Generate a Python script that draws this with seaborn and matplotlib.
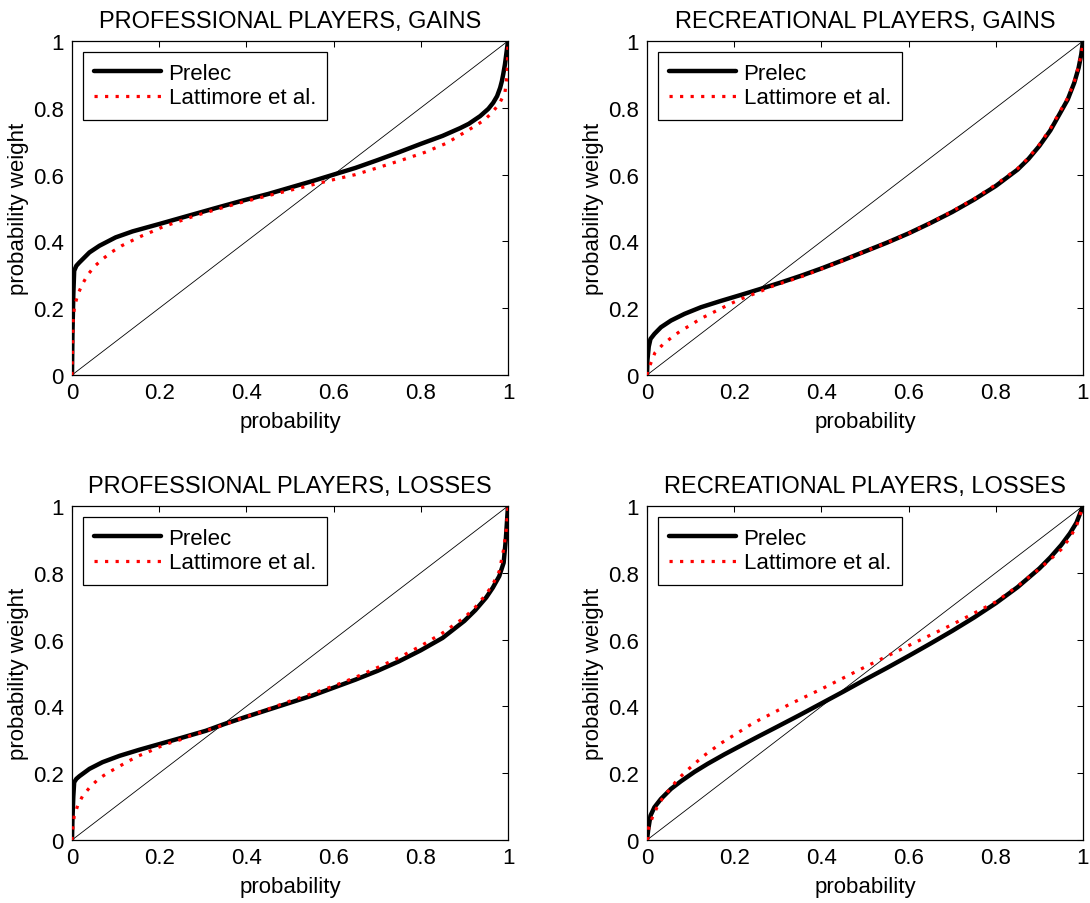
import numpy as np
import pandas as pd
import matplotlib
matplotlib.use("Agg")
import matplotlib.pyplot as plt
import seaborn as sns

# valores
tick_vals = [0, 0.2, 0.4, 0.6, 0.8, 1]
tick_labels = ["0", "0.2", "0.4", "0.6", "0.8", "1"]

titles = ["PROFESSIONAL PLAYERS, GAINS", "RECREATIONAL PLAYERS, GAINS",
          "PROFESSIONAL PLAYERS, LOSSES", "RECREATIONAL PLAYERS, LOSSES"]

# profesionales, ganancias
prelec_p_pg = [0, 0.001, 0.003, 0.005, 0.01, 0.017, 0.04, 0.063, 0.1, 0.139, 0.2, 0.254, 0.33, 0.391, 0.45, 0.5,
               0.55, 0.6, 0.65, 0.7, 0.75, 0.8, 0.85, 0.89, 0.91, 0.936, 0.955, 0.966, 0.975, 0.982, 0.986, 0.989,
               0.993, 0.996, 1]
prelec_w_pg = [0, 0.12, 0.24, 0.312, 0.327, 0.337, 0.367, 0.387, 0.412, 0.43, 0.452, 0.472, 0.5, 0.522, 0.542, 0.561,
               0.58, 0.6, 0.62, 0.643, 0.667, 0.692, 0.716, 0.739, 0.752, 0.775, 0.797, 0.815, 0.835, 0.86, 0.88, 0.9,
               0.93, 0.96, 1]
latt_p_pg = [0, 0.001, 0.002, 0.003, 0.006, 0.013, 0.023, 0.036, 0.053, 0.072, 0.092, 0.114, 0.137, 0.161, 0.185,
             0.209, 0.234, 0.283, 0.332, 0.384, 0.45, 0.5, 0.55, 0.6, 0.65, 0.7, 0.76, 0.81, 0.859, 0.905, 0.93,
             0.947, 0.963, 0.98, 0.993, 0.998, 1]
latt_w_pg = [0, 0.07, 0.13, 0.175, 0.206, 0.24, 0.27, 0.3, 0.327, 0.349, 0.369, 0.387, 0.402, 0.417, 0.43,
             0.444, 0.455, 0.477, 0.496, 0.515, 0.537, 0.553, 0.569, 0.585, 0.6, 0.62, 0.645, 0.667, 0.694, 0.73, 0.75,
             0.765, 0.785, 0.812, 0.845, 0.9, 1]

# recreativos, ganancias
prelec_p_rg = [0, 0.001, 0.004, 0.008, 0.017, 0.032, 0.055, 0.086, 0.124, 0.17, 0.216, 0.261, 0.307, 0.353, 0.4,
               0.45, 0.5, 0.55, 0.6, 0.65, 0.7, 0.75, 0.8, 0.85, 0.875, 0.9, 0.925, 0.95, 0.965, 0.98, 0.99, 0.996, 1]
prelec_w_rg = [0, 0.045, 0.085, 0.108, 0.123, 0.143, 0.163, 0.183, 0.203, 0.222, 0.24, 0.258, 0.277, 0.297, 0.319,
               0.344, 0.37, 0.396, 0.424, 0.455, 0.488, 0.525, 0.566, 0.615, 0.647, 0.686, 0.732, 0.79, 0.825, 0.875,
               0.92, 0.96, 1]
latt_p_rg = [0, 0.002, 0.008, 0.018, 0.036, 0.057, 0.078, 0.101, 0.122, 0.145, 0.168, 0.191, 0.216, 0.24, 0.263,
             0.288, 0.313, 0.337, 0.362, 0.385, 0.45, 0.5, 0.55, 0.6, 0.65, 0.7, 0.75, 0.8, 0.85, 0.875, 0.9, 0.925,
             0.95, 0.965, 0.98, 0.99, 0.996, 1]
latt_w_rg = [0, 0.015, 0.033, 0.066, 0.091, 0.113, 0.133, 0.15, 0.168, 0.183, 0.198, 0.213, 0.228, 0.24, 0.252,
             0.266, 0.277, 0.287, 0.298, 0.31, 0.343, 0.37, 0.396, 0.424, 0.455, 0.49, 0.527, 0.57, 0.618, 0.65, 0.69,
             0.737, 0.795, 0.83, 0.878, 0.925, 0.96, 1]

# profesionales, perdidas
prelec_p_pl = [0, 0.001, 0.003, 0.005, 0.01, 0.017, 0.04, 0.07, 0.109, 0.154, 0.2, 0.254, 0.307, 0.349, 0.395,
               0.45, 0.5, 0.55, 0.6, 0.65, 0.7, 0.75, 0.8, 0.85, 0.9, 0.925, 0.95, 0.965, 0.98, 0.99, 0.995, 1]
prelec_w_pl = [0, 0.06, 0.13, 0.173, 0.183, 0.191, 0.213, 0.233, 0.252, 0.27, 0.287, 0.307, 0.327, 0.347, 0.367,
               0.39, 0.411, 0.432, 0.456, 0.48, 0.506, 0.535, 0.568, 0.605, 0.656, 0.688, 0.726, 0.755, 0.79, 0.83,
               0.9, 1]
latt_p_pl = [0, 0.001, 0.002, 0.005, 0.013, 0.024, 0.041, 0.061, 0.082, 0.105, 0.128, 0.151, 0.174, 0.199, 0.223,
             0.248, 0.271, 0.296, 0.321, 0.346, 0.37, 0.393, 0.45, 0.5, 0.55, 0.6, 0.65, 0.7, 0.75, 0.8, 0.85, 0.9,
             0.925, 0.95, 0.965, 0.98, 0.99, 0.996, 1]
latt_w_pl = [0, 0.02, 0.038, 0.071, 0.103, 0.131, 0.158, 0.183, 0.201, 0.218, 0.235, 0.251, 0.263, 0.278, 0.29,
             0.3, 0.312, 0.322, 0.333, 0.344, 0.355, 0.366, 0.392, 0.416, 0.438, 0.461, 0.487, 0.516, 0.546, 0.581,
             0.62, 0.666, 0.697, 0.736, 0.765, 0.805, 0.87, 0.93, 1]

# recreativos, perdidas
prelec_p_rl = [0, 0.003, 0.008, 0.017, 0.032, 0.055, 0.078, 0.109, 0.139, 0.177, 0.216, 0.254, 0.3, 0.35, 0.4,
               0.45, 0.5, 0.55, 0.6, 0.65, 0.7, 0.75, 0.8, 0.85, 0.9, 0.925, 0.95, 0.97, 0.985, 1]
prelec_w_rl = [0, 0.033, 0.073, 0.098, 0.123, 0.153, 0.176, 0.204, 0.228, 0.256, 0.283, 0.309, 0.34, 0.374, 0.409,
               0.444, 0.48, 0.515, 0.551, 0.588, 0.626, 0.666, 0.709, 0.757, 0.813, 0.846, 0.883, 0.918, 0.95, 1]
latt_p_rl = [0, 0.003, 0.004, 0.013, 0.023, 0.036, 0.054, 0.07, 0.089, 0.109, 0.128, 0.149, 0.17, 0.191, 0.213,
             0.236, 0.258, 0.281, 0.303, 0.328, 0.352, 0.4, 0.45, 0.5, 0.55, 0.6, 0.7, 0.8, 0.85, 0.9, 0.925, 0.95,
             0.97, 0.985, 1]
latt_w_rl = [0, 0.008, 0.038, 0.07, 0.098, 0.126, 0.155, 0.181, 0.205, 0.228, 0.25, 0.27, 0.29, 0.307, 0.325,
             0.344, 0.36, 0.375, 0.39, 0.407, 0.422, 0.452, 0.485, 0.518, 0.55, 0.582, 0.645, 0.713, 0.76, 0.812,
             0.84, 0.87, 0.905, 0.94, 1]

paneles = [
    (prelec_p_pg, prelec_w_pg, latt_p_pg, latt_w_pg),
    (prelec_p_rg, prelec_w_rg, latt_p_rg, latt_w_rg),
    (prelec_p_pl, prelec_w_pl, latt_p_pl, latt_w_pl),
    (prelec_p_rl, prelec_w_rl, latt_p_rl, latt_w_rl),
]

sns.set_style("white")
plt.rcParams['font.family'] = ['Liberation Sans', 'DejaVu Sans']
plt.rcParams['text.color'] = 'black'
plt.rcParams['axes.labelcolor'] = 'black'
plt.rcParams['xtick.color'] = 'black'
plt.rcParams['ytick.color'] = 'black'

fs = 16
fig = plt.figure(figsize=(10.9, 9.04), dpi=100)
W, H = 1090, 904
# posiciones de los ejes en pixeles (izq, arriba)
pos = [(72, 42), (647, 42), (72, 507), (647, 507)]
aw, ah = 436, 334

for k, (pp, pw, lp, lw_) in enumerate(paneles):
    x0, y0 = pos[k]
    ax = fig.add_axes([x0 / W, 1 - (y0 + ah) / H, aw / W, ah / H])

    # diagonal
    ax.plot([0, 1], [0, 1], color='black', lw=0.6, zorder=1)

    df_p = pd.DataFrame({'p': pp, 'w': pw})
    df_l = pd.DataFrame({'p': lp, 'w': lw_})
    sns.lineplot(data=df_p, x='p', y='w', ax=ax, color='black', lw=3.2,
                 estimator=None, label='Prelec', zorder=2)
    sns.lineplot(data=df_l, x='p', y='w', ax=ax, color='red', lw=2.3,
                 estimator=None, label='Lattimore et al.', zorder=3,
                 linestyle=(0, (1, 2.3)), dash_capstyle='butt')

    ax.set_xlim(0, 1)
    ax.set_ylim(0, 1)
    ax.set_xticks(tick_vals)
    ax.set_xticklabels(tick_labels)
    ax.set_yticks(tick_vals)
    ax.set_yticklabels(tick_labels)
    ax.tick_params(direction='in', length=4, width=0.75, top=True, right=True,
                   labelsize=fs, color='black', labelcolor='black')
    ax.tick_params(axis='x', pad=5)
    ax.tick_params(axis='y', pad=6)
    for s in ax.spines.values():
        s.set_visible(True)
        s.set_color('black')
        s.set_linewidth(0.9)

    ax.set_title(titles[k], fontsize=17, pad=10)
    ax.set_xlabel('probability', fontsize=fs, labelpad=6)
    ax.set_ylabel('probability weight', fontsize=fs, labelpad=3)

    leg = ax.legend(loc='upper left', bbox_to_anchor=(11 / aw, 1 - 11 / ah),
                    borderaxespad=0, fancybox=False, framealpha=1,
                    edgecolor='black', fontsize=fs, handlelength=3.0,
                    handletextpad=0.35, labelspacing=0.15, borderpad=0.5)
    leg.get_frame().set_linewidth(0.9)

fig.savefig('out.png', dpi=100)
